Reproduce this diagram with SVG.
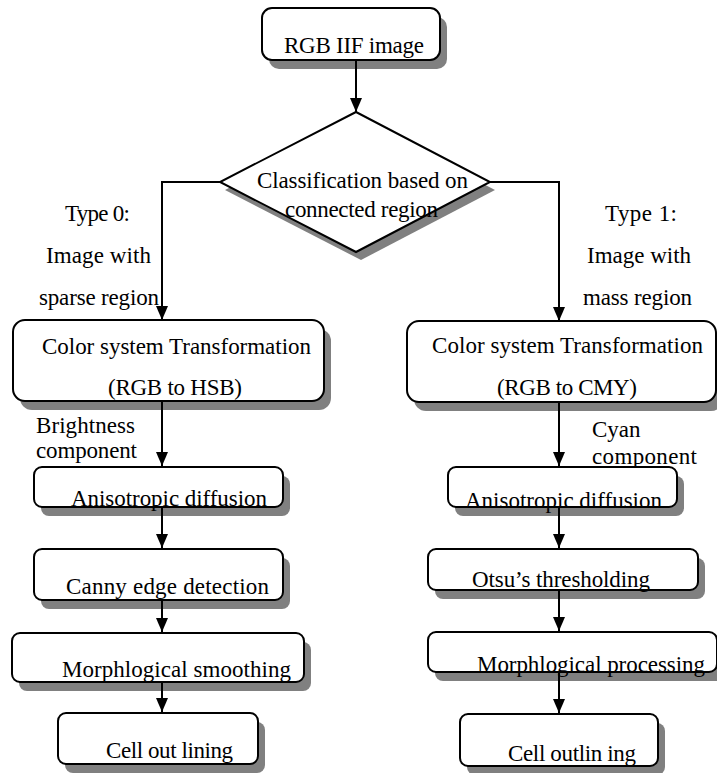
<svg xmlns="http://www.w3.org/2000/svg" width="717" height="773" viewBox="0 0 717 773">
<style>
.sh{fill:#808080;stroke:none}
.bx{fill:#fff;stroke:#000;stroke-width:2}
.t{font-family:"Liberation Serif","Times New Roman",Times,serif;font-size:23px;fill:#000}
.c{fill:none;stroke:#000;stroke-width:2}
</style>
<defs>
<marker id="ah" viewBox="0 0 14 12" refX="14" refY="6" markerWidth="14" markerHeight="12" orient="auto" markerUnits="userSpaceOnUse">
<path d="M0,0 L14,6 L0,12 z" fill="#000"/>
</marker>
</defs>
<rect width="717" height="773" fill="#fff"/>
<g id="n-start">
<rect class="sh" x="269" y="17" width="178" height="52" rx="10"/>
<rect class="bx" x="262" y="8" width="178" height="52" rx="10"/>
<text class="t" x="284" y="53" textLength="140">RGB IIF image</text>
</g>
<g id="n-classify">
<polygon class="sh" points="361,120 495,190 361,260 225,190"/>
<polygon class="bx" points="356,112 490,182 356,252 220,182"/>
<text class="t" x="257" y="188" textLength="211">Classification based on</text>
<text class="t" x="285" y="217" textLength="153">connected region</text>
</g>
<g id="lbl-type0">
<text class="t" x="65" y="221" textLength="65">Type 0:</text>
<text class="t" x="46" y="263" textLength="105">Image with</text>
<text class="t" x="39" y="305" textLength="120">sparse region</text>
</g>
<g id="lbl-type1">
<text class="t" x="605" y="221" textLength="72">Type 1:</text>
<text class="t" x="587" y="263" textLength="104">Image with</text>
<text class="t" x="583" y="305" textLength="109">mass region</text>
</g>
<g id="n-hsb">
<rect class="sh" x="20" y="329" width="311" height="81" rx="12"/>
<rect class="bx" x="13" y="320" width="311" height="81" rx="12"/>
<text class="t" x="42" y="354" textLength="269">Color system Transformation</text>
<text class="t" x="108" y="395" textLength="134">(RGB to HSB)</text>
</g>
<g id="n-cmy">
<rect class="sh" x="414" y="330" width="309" height="81" rx="12"/>
<rect class="bx" x="407" y="321" width="309" height="81" rx="12"/>
<text class="t" x="432" y="353" textLength="271">Color system Transformation</text>
<text class="t" x="497" y="395" textLength="140">(RGB to CMY)</text>
</g>
<g id="lbl-brightness">
<text class="t" x="36" y="433" textLength="99">Brightness</text>
<text class="t" x="36" y="458" textLength="101">component</text>
</g>
<g id="lbl-cyan">
<text class="t" x="592" y="437">Cyan</text>
<text class="t" x="592" y="464" textLength="105">component</text>
</g>
<g id="n-l-aniso">
<rect class="sh" x="41" y="476" width="249" height="40" rx="8"/>
<rect class="bx" x="34" y="467" width="249" height="40" rx="8"/>
<text class="t" x="71" y="506" textLength="196">Anisotropic diffusion</text>
</g>
<g id="n-canny">
<rect class="sh" x="41" y="558" width="249" height="51" rx="8"/>
<rect class="bx" x="34" y="549" width="249" height="51" rx="8"/>
<text class="t" x="66" y="594" textLength="203">Canny edge detection</text>
</g>
<g id="n-smooth">
<rect class="sh" x="19" y="642" width="292" height="49" rx="8"/>
<rect class="bx" x="12" y="633" width="292" height="49" rx="8"/>
<text class="t" x="62" y="677" textLength="229">Morphlogical smoothing</text>
</g>
<g id="n-l-cell">
<rect class="sh" x="65" y="722" width="200" height="51" rx="8"/>
<rect class="bx" x="58" y="713" width="200" height="51" rx="8"/>
<text class="t" x="106" y="758" textLength="127">Cell out lining</text>
</g>
<g id="n-r-aniso">
<rect class="sh" x="455" y="476" width="229" height="40" rx="8"/>
<rect class="bx" x="448" y="467" width="229" height="40" rx="8"/>
<text class="t" x="465" y="508" textLength="197">Anisotropic diffusion</text>
</g>
<g id="n-otsu">
<rect class="sh" x="435" y="558" width="270" height="41" rx="8"/>
<rect class="bx" x="428" y="549" width="270" height="41" rx="8"/>
<text class="t" x="472" y="587" textLength="178">Otsu’s thresholding</text>
</g>
<g id="n-proc">
<rect class="sh" x="435" y="641" width="289" height="40" rx="8"/>
<rect class="bx" x="428" y="632" width="289" height="40" rx="8"/>
<text class="t" x="477" y="672" textLength="228">Morphlogical processing</text>
</g>
<g id="n-r-cell">
<rect class="sh" x="467" y="723" width="198" height="52" rx="8"/>
<rect class="bx" x="460" y="714" width="198" height="52" rx="8"/>
<text class="t" x="508" y="761" textLength="128">Cell outlin ing</text>
</g>
<g id="connectors">
<line class="c" x1="356" y1="60" x2="356" y2="112" marker-end="url(#ah)"/>
<polyline class="c" points="220,182 162,182 162,320" marker-end="url(#ah)"/>
<polyline class="c" points="490,182 559,182 559,321" marker-end="url(#ah)"/>
<line class="c" x1="162" y1="401" x2="162" y2="466" marker-end="url(#ah)"/>
<line class="c" x1="162" y1="507" x2="162" y2="548" marker-end="url(#ah)"/>
<line class="c" x1="162" y1="600" x2="162" y2="632" marker-end="url(#ah)"/>
<line class="c" x1="162" y1="682" x2="162" y2="712" marker-end="url(#ah)"/>
<line class="c" x1="559" y1="402" x2="559" y2="466" marker-end="url(#ah)"/>
<line class="c" x1="559" y1="507" x2="559" y2="548" marker-end="url(#ah)"/>
<line class="c" x1="559" y1="590" x2="559" y2="631" marker-end="url(#ah)"/>
<line class="c" x1="559" y1="672" x2="559" y2="713" marker-end="url(#ah)"/>
</g>
</svg>
